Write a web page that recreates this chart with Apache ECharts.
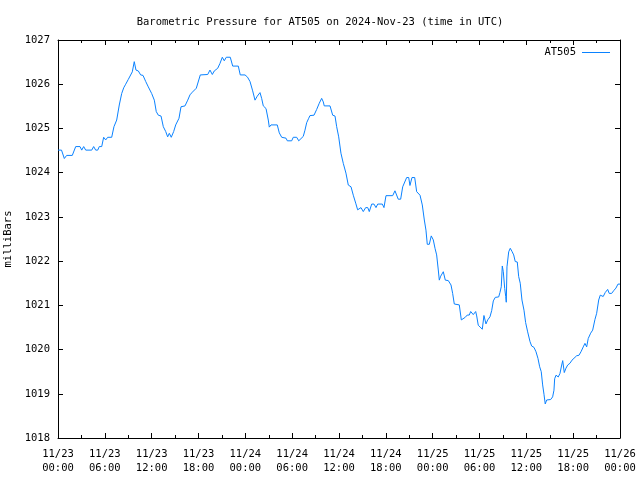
<!DOCTYPE html>
<html><head><meta charset="utf-8">
<script src="https://cdn.jsdelivr.net/npm/echarts@6/dist/echarts.min.js"></script>
<style>html,body{margin:0;padding:0;background:#fff}#c{width:640px;height:480px}</style>
</head><body><div id="c"></div>
<script>
const seriesName = 'AT505';
const hours = [0.0,0.45,0.81,1.11,1.83,2.27,2.82,3.04,3.29,3.55,4.32,4.57,4.83,5.09,5.29,5.60,5.85,6.11,6.37,6.88,7.17,7.52,7.85,8.16,8.42,8.67,9.01,9.26,9.52,9.77,9.99,10.29,10.59,10.89,11.24,11.57,12.00,12.34,12.59,12.85,13.20,13.49,13.80,14.05,14.26,14.51,14.82,15.08,15.33,15.50,15.76,16.27,16.62,16.91,17.21,17.46,17.72,17.97,18.23,18.41,19.18,19.47,19.77,20.02,20.46,20.75,21.05,21.30,21.56,22.07,22.38,23.10,23.35,23.96,24.28,24.60,24.94,25.24,25.53,25.88,26.09,26.30,26.65,26.94,27.07,27.29,28.09,28.35,28.66,29.21,29.38,29.94,30.14,30.58,30.84,31.13,31.42,31.64,31.86,32.12,32.28,32.80,33.14,33.47,33.78,33.99,34.11,34.85,35.19,35.49,35.70,35.96,36.25,36.55,36.89,37.19,37.54,37.83,38.14,38.39,38.60,38.82,39.11,39.42,39.68,39.88,40.19,40.48,40.74,40.96,41.55,41.76,42.02,42.88,43.17,43.39,43.59,43.90,44.16,44.33,44.67,44.93,45.09,45.35,45.70,45.95,46.16,46.38,46.67,46.93,47.14,47.31,47.57,47.82,48.08,48.30,48.51,48.72,48.85,49.03,49.36,49.62,50.00,50.35,50.56,50.77,50.99,51.41,51.67,51.92,52.18,52.43,52.69,52.87,53.20,53.51,53.64,53.84,54.06,54.36,54.57,54.83,55.05,55.34,55.56,55.77,56.02,56.46,56.62,56.79,56.92,57.05,57.23,57.36,57.43,57.52,57.74,57.94,58.16,58.38,58.58,58.84,59.02,59.22,59.44,59.70,59.91,60.17,60.47,60.68,60.98,61.24,61.49,61.71,61.91,62.09,62.26,62.42,62.61,63.12,63.37,63.54,63.63,63.80,64.09,64.31,64.53,64.66,64.86,65.08,65.30,65.59,65.85,66.10,66.45,66.74,67.00,67.29,67.51,67.73,67.93,68.24,68.50,68.79,69.01,69.27,69.47,69.65,69.85,70.11,70.42,70.62,70.93,71.23,71.48,71.74,72.0];
const pressure = [1024.51,1024.51,1024.32,1024.39,1024.39,1024.59,1024.59,1024.51,1024.59,1024.51,1024.51,1024.59,1024.51,1024.51,1024.59,1024.59,1024.80,1024.74,1024.80,1024.80,1025.04,1025.19,1025.53,1025.79,1025.92,1026.00,1026.11,1026.13,1026.28,1026.51,1026.32,1026.30,1026.21,1026.20,1026.06,1025.94,1025.79,1025.64,1025.38,1025.30,1025.28,1025.04,1024.93,1024.81,1024.89,1024.80,1024.93,1025.08,1025.12,1025.23,1025.49,1025.51,1025.64,1025.76,1025.82,1025.83,1025.91,1025.94,1026.21,1026.22,1026.22,1026.32,1026.22,1026.30,1026.36,1026.47,1026.61,1026.53,1026.61,1026.61,1026.41,1026.41,1026.21,1026.21,1026.16,1026.06,1025.85,1025.64,1025.73,1025.81,1025.68,1025.51,1025.45,1025.19,1025.03,1025.08,1025.08,1024.90,1024.80,1024.78,1024.72,1024.72,1024.80,1024.80,1024.72,1024.77,1024.82,1024.96,1025.13,1025.23,1025.29,1025.30,1025.43,1025.57,1025.68,1025.60,1025.51,1025.51,1025.30,1025.28,1025.04,1024.81,1024.44,1024.21,1023.99,1023.72,1023.68,1023.49,1023.31,1023.16,1023.12,1023.21,1023.12,1023.21,1023.21,1023.12,1023.29,1023.29,1023.21,1023.29,1023.29,1023.21,1023.48,1023.48,1023.59,1023.59,1023.40,1023.40,1023.68,1023.70,1023.89,1023.89,1023.71,1023.89,1023.89,1023.57,1023.53,1023.49,1023.27,1022.93,1022.70,1022.38,1022.38,1022.57,1022.48,1022.29,1022.14,1021.80,1021.57,1021.66,1021.76,1021.57,1021.56,1021.46,1021.27,1021.03,1021.01,1021.01,1020.67,1020.67,1020.73,1020.78,1020.78,1020.86,1020.79,1020.86,1020.76,1020.55,1020.52,1020.46,1020.77,1020.58,1020.67,1020.74,1020.88,1021.10,1021.18,1021.19,1021.29,1021.42,1021.89,1021.76,1021.38,1021.20,1021.07,1021.87,1022.21,1022.29,1022.22,1022.14,1021.99,1021.98,1021.65,1021.50,1021.12,1020.89,1020.61,1020.40,1020.18,1020.08,1020.05,1019.95,1019.80,1019.61,1019.50,1019.20,1018.99,1018.77,1018.86,1018.87,1018.93,1019.08,1019.34,1019.42,1019.38,1019.46,1019.65,1019.75,1019.48,1019.58,1019.65,1019.69,1019.76,1019.80,1019.86,1019.87,1019.95,1020.06,1020.14,1020.06,1020.25,1020.37,1020.44,1020.68,1020.82,1021.12,1021.23,1021.27,1021.20,1021.29,1021.36,1021.27,1021.27,1021.34,1021.39,1021.48,1021.48];
const xTickLabels = ['11/23\n00:00','11/23\n06:00','11/23\n12:00','11/23\n18:00','11/24\n00:00','11/24\n06:00','11/24\n12:00','11/24\n18:00','11/25\n00:00','11/25\n06:00','11/25\n12:00','11/25\n18:00','11/26\n00:00'];
const titleText = 'Barometric Pressure for AT505 on 2024-Nov-23 (time in UTC)';
const yAxisName = 'milliBars';

const FONT = 'DejaVu Sans Mono';
const data = hours.map((h, i) => [h, pressure[i]]);
const axisLineStyle = { color: '#000', width: 1 };
const LINE_COLOR = '#0a82ff';

const chart = echarts.init(document.getElementById('c'), null, { renderer: 'canvas' });
chart.setOption({
  animation: false,
  backgroundColor: '#fff',
  textStyle: { fontFamily: FONT, color: '#000' },
  title: {
    text: titleText, left: 'center', top: 12,
    textStyle: { fontFamily: FONT, fontSize: 10.5, fontWeight: 'normal', color: '#000' }
  },
  legend: {
    data: [seriesName], right: 25, top: 42, align: 'right',
    itemWidth: 28, itemHeight: 10, itemGap: 0,
    icon: 'path://M0,5 L28,5 L28,6 L0,6 Z',
    textStyle: { fontFamily: FONT, fontSize: 10.5, color: '#000', padding: [0, 1, 0, 0] }
  },
  grid: { left: 58, right: 20, top: 40, bottom: 42, containLabel: false, outerBoundsMode: 'none' },
  xAxis: [{
    type: 'value', min: 0, max: 72, interval: 6, position: 'bottom',
    axisLine: { show: true, onZero: false, lineStyle: axisLineStyle },
    axisTick: { show: true, inside: true, length: 5, lineStyle: axisLineStyle },
    minorTick: { show: true, splitNumber: 2, length: 3, lineStyle: axisLineStyle },
    splitLine: { show: false },
    axisLabel: {
      margin: 9, fontFamily: FONT, fontSize: 10.5, color: '#000', lineHeight: 14,
      formatter: v => xTickLabels[Math.round(v / 6)] || ''
    }
  }, {
    type: 'value', min: 0, max: 72, interval: 6, position: 'top',
    axisLine: { show: true, onZero: false, lineStyle: axisLineStyle },
    axisTick: { show: true, inside: true, length: 5, lineStyle: axisLineStyle },
    minorTick: { show: true, splitNumber: 2, length: 3, lineStyle: axisLineStyle },
    splitLine: { show: false }, axisLabel: { show: false }
  }],
  yAxis: [{
    type: 'value', min: 1018, max: 1027, interval: 1, position: 'left',
    name: yAxisName, nameLocation: 'middle', nameRotate: 90, nameGap: 41,
    nameTextStyle: { fontFamily: FONT, fontSize: 10.5, color: '#000' },
    axisLine: { show: true, onZero: false, lineStyle: axisLineStyle },
    axisTick: { show: true, inside: true, length: 5, lineStyle: axisLineStyle },
    splitLine: { show: false },
    axisLabel: { margin: 8, fontFamily: FONT, fontSize: 10.5, color: '#000', formatter: v => String(v) }
  }, {
    type: 'value', min: 1018, max: 1027, interval: 1, position: 'right',
    axisLine: { show: true, onZero: false, lineStyle: axisLineStyle },
    axisTick: { show: true, inside: true, length: 5, lineStyle: axisLineStyle },
    splitLine: { show: false }, axisLabel: { show: false }
  }],
  series: [{
    name: seriesName, type: 'line', data: data, xAxisIndex: 0, yAxisIndex: 0,
    showSymbol: false, symbol: 'none',
    lineStyle: { color: LINE_COLOR, width: 1 }, itemStyle: { color: LINE_COLOR }
  }]
});
</script></body></html>
